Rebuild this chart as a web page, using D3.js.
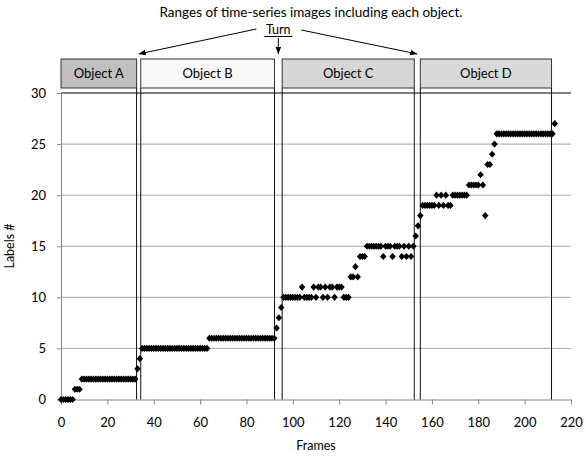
<!DOCTYPE html>
<html>
<head>
<meta charset="utf-8">
<script src="https://cdn.jsdelivr.net/npm/d3@7"></script>
<style>
  body { margin: 0; background: #fff; }
  svg { font-family: Lato, "Open Sans", sans-serif; }
</style>
</head>
<body>
<svg width="586" height="459"></svg>
<script>
// label assigned to each frame (index = frame number)
const labels = [
  0, 0, 0, 0, 0, 0, 1, 1, 1, 2,
  2, 2, 2, 2, 2, 2, 2, 2, 2, 2,
  2, 2, 2, 2, 2, 2, 2, 2, 2, 2,
  2, 2, 2, 3, 4, 5, 5, 5, 5, 5,
  5, 5, 5, 5, 5, 5, 5, 5, 5, 5,
  5, 5, 5, 5, 5, 5, 5, 5, 5, 5,
  5, 5, 5, 5, 6, 6, 6, 6, 6, 6,
  6, 6, 6, 6, 6, 6, 6, 6, 6, 6,
  6, 6, 6, 6, 6, 6, 6, 6, 6, 6,
  6, 6, 6, 7, 8, 9, 10, 10, 10, 10,
  10, 10, 10, 10, 11, 10, 10, 10, 10, 11,
  10, 11, 11, 10, 11, 10, 11, 11, 10, 11,
  11, 11, 10, 10, 10, 12, 12, 13, 12, 14,
  14, 14, 15, 15, 15, 15, 15, 15, 15, 14,
  15, 15, 15, 14, 15, 15, 15, 14, 15, 14,
  15, 14, 15, 16, 17, 18, 19, 19, 19, 19,
  19, 19, 20, 19, 20, 19, 20, 19, 19, 20,
  20, 20, 20, 20, 20, 20, 21, 21, 21, 21,
  21, 22, 21, 18, 23, 23, 24, 25, 26, 26,
  26, 26, 26, 26, 26, 26, 26, 26, 26, 26,
  26, 26, 26, 26, 26, 26, 26, 26, 26, 26,
  26, 26, 26, 27
];

const xTicks = [0, 20, 40, 60, 80, 100, 120, 140, 160, 180, 200, 220];
const yTicks = [0, 5, 10, 15, 20, 25, 30];

const objectNames = ["Object A", "Object B", "Object C", "Object D"];
const objectStart = [0, 34.4, 95.4, 155];
const objectEnd = [32.6, 92.1, 152.4, 211.6];
const turnFrames = [33.5, 93.75, 153.7];

const boxFill = ["#bfbfbf", "#f8f8f8", "#d6d6d6", "#d9d9d9"];

const svg = d3.select("svg");
const plotLeft = 61, plotRight = 571, plotTop = 93, plotBottom = 399.5;

const x = d3.scaleLinear().domain([0, 220]).range([plotLeft, plotRight]);
const y = d3.scaleLinear().domain([0, 30]).range([plotBottom, plotTop]);

// gridlines
svg.append("g")
  .selectAll("line")
  .data(yTicks.filter(d => d > 0 && d < 30))
  .enter().append("line")
  .attr("x1", plotLeft).attr("x2", plotRight)
  .attr("y1", d => y(d)).attr("y2", d => y(d))
  .attr("stroke", "#a6a6a6");

svg.append("line")
  .attr("x1", plotLeft).attr("x2", plotRight)
  .attr("y1", y(30)).attr("y2", y(30))
  .attr("stroke", "#000");

// axes
const xAxis = svg.append("g")
  .attr("transform", "translate(0," + plotBottom + ")")
  .call(d3.axisBottom(x).tickValues(xTicks).tickSize(5).tickSizeOuter(0).tickPadding(13));
const yAxis = svg.append("g")
  .attr("transform", "translate(" + plotLeft + ",0)")
  .call(d3.axisLeft(y).tickValues(yTicks).tickSize(4).tickSizeOuter(0).tickPadding(11));

[xAxis, yAxis].forEach(a => {
  a.select(".domain").attr("stroke", "#868686");
  a.selectAll(".tick line").attr("stroke", "#868686");
  a.selectAll("text").attr("font-size", 13).attr("fill", "#000")
    .attr("font-family", "Lato, 'Open Sans', sans-serif");
});

// object ranges
const boxTop = 59, boxBottom = 88;
const objects = svg.append("g").selectAll("g")
  .data(objectNames)
  .enter().append("g");

objects.append("rect")
  .attr("x", (d, i) => x(objectStart[i]))
  .attr("width", (d, i) => x(objectEnd[i]) - x(objectStart[i]))
  .attr("y", boxTop)
  .attr("height", boxBottom - boxTop)
  .attr("fill", (d, i) => boxFill[i])
  .attr("stroke", "#333");

objects.append("text")
  .attr("x", (d, i) => (x(objectStart[i]) + x(objectEnd[i])) / 2)
  .attr("y", (boxTop + boxBottom) / 2 + 4.5)
  .attr("text-anchor", "middle")
  .attr("font-size", 13)
  .text(d => d);

const edges = [];
objectNames.forEach((d, i) => {
  if (i > 0) edges.push(objectStart[i]);
  edges.push(objectEnd[i]);
});
svg.append("g").selectAll("line")
  .data(edges)
  .enter().append("line")
  .attr("x1", d => x(d)).attr("x2", d => x(d))
  .attr("y1", boxBottom).attr("y2", plotBottom)
  .attr("stroke", "#111");

// points
const diamond = {
  draw(ctx, size) {
    const r = Math.sqrt(size / 2);
    ctx.moveTo(0, -r * 1.1);
    ctx.lineTo(r, 0);
    ctx.lineTo(0, r * 1.1);
    ctx.lineTo(-r, 0);
    ctx.closePath();
  }
};
svg.append("g").selectAll("path")
  .data(labels)
  .enter().append("path")
  .attr("transform", (d, i) => "translate(" + x(i) + "," + y(d) + ")")
  .attr("d", d3.symbol().type(diamond).size(21))
  .attr("fill", "#000");

// titles
svg.append("text")
  .attr("x", 311).attr("y", 17)
  .attr("text-anchor", "middle")
  .attr("font-size", 13.5)
  .text("Ranges of time-series images including each object.");

svg.append("text")
  .attr("x", (plotLeft + plotRight) / 2).attr("y", 450)
  .attr("text-anchor", "middle")
  .attr("font-size", 12.5)
  .text("Frames");

svg.append("text")
  .attr("transform", "translate(14,246) rotate(-90)")
  .attr("text-anchor", "middle")
  .attr("font-size", 12.5)
  .text("Labels #");

// "Turn" annotation
svg.append("defs").append("marker")
  .attr("id", "arrow")
  .attr("viewBox", "0 0 10 10")
  .attr("refX", 10).attr("refY", 5)
  .attr("markerWidth", 7).attr("markerHeight", 7)
  .attr("orient", "auto")
  .append("path")
  .attr("d", "M0,1L10,5L0,9Z")
  .attr("fill", "#000");

const turnX = x(turnFrames[1]);
svg.append("text")
  .attr("x", turnX).attr("y", 34)
  .attr("text-anchor", "middle")
  .attr("font-size", 12.5)
  .text("Turn");
svg.append("line")
  .attr("x1", turnX - 14).attr("x2", turnX + 14)
  .attr("y1", 36.5).attr("y2", 36.5)
  .attr("stroke", "#000");

const starts = [[turnX - 22, 29], [turnX, 38], [turnX + 23, 30]];
svg.append("g").selectAll("line")
  .data(turnFrames)
  .enter().append("line")
  .attr("x1", (d, i) => starts[i][0]).attr("y1", (d, i) => starts[i][1])
  .attr("x2", d => x(d)).attr("y2", 54)
  .attr("stroke", "#000")
  .attr("marker-end", "url(#arrow)");
</script>
</body>
</html>
